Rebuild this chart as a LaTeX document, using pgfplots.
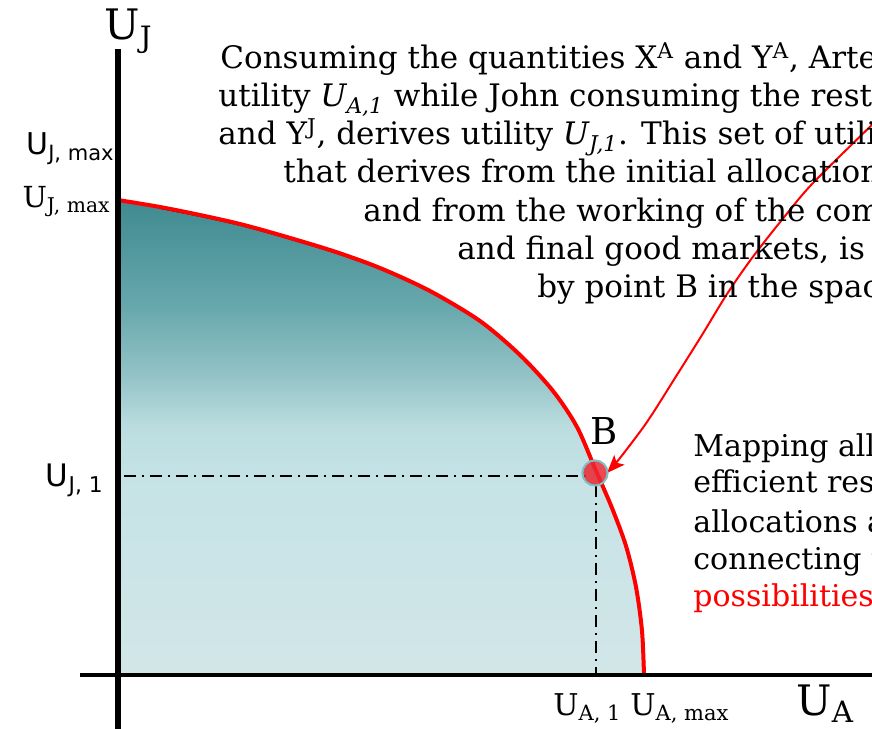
\documentclass[border=0pt]{standalone}
\usepackage{fontspec}
\setmainfont{DejaVu Serif}
\setsansfont{DejaVu Sans}
\usepackage{pgfplots}
\pgfplotsset{compat=1.18}
\usetikzlibrary{arrows.meta}
\definecolor{ctop}{HTML}{3F8A90}
\definecolor{c64}{HTML}{66A7AC}
\definecolor{c57}{HTML}{90C1C5}
\definecolor{c51}{HTML}{BCDDE0}
\definecolor{c45}{HTML}{C6E3E6}
\definecolor{cbot}{HTML}{D2E6E8}
\definecolor{cborder}{HTML}{7DBFC6}
\definecolor{cred}{HTML}{EB2832}
\pgfdeclareverticalshading{ppf}{100bp}{color(0bp)=(cbot); color(25bp)=(cbot); color(45bp)=(c45); color(51bp)=(c51); color(57bp)=(c57); color(64bp)=(c64); color(75bp)=(ctop); color(100bp)=(ctop)}
\begin{document}
\begin{tikzpicture}
\path[use as bounding box] (0,0) rectangle (436pt,364pt);
\clip (0,0) rectangle (436pt,364pt);
\begin{axis}[at={(0,0)}, anchor=south west, hide axis, scale only axis,
  width=436pt, height=364pt, xmin=-118, xmax=754, ymin=-53, ymax=675, clip=false]
% frontier fill
\addplot[draw=none, shading=ppf, smooth] coordinates {
(0,475) (42,468) (82,460) (122,451) (162,440) (215,424) (262,407) (312,384)
(362,354) (402,320) (435,284) (459,248) (478,204) (494,167) (508,129) (518,88) (524,44) (526,0)
} \closedcycle;
\addplot[black, line width=0.5pt, smooth, xshift=0.5pt, yshift=-0.8pt] coordinates {
(42,468) (82,460) (122,451) (162,440) (215,424) (262,407) (312,384)
(362,354) (402,320) (435,284) (459,248) (478,204) (494,167) (508,129) (518,88) (524,44) (526,0)
};
% point B
\addplot[only marks, mark=*, mark size=6.3pt, mark options={draw=cborder, line width=1pt, fill=cred, fill opacity=0.85}] coordinates {(477,202)};
% frontier line
\addplot[red, line width=2pt, smooth] coordinates {
(0,475) (42,468) (82,460) (122,451) (162,440) (215,424) (262,407) (312,384)
(362,354) (402,320) (435,284) (459,248) (478,204) (494,167) (508,129) (518,88) (524,44) (526,0)
};
% dash-dot guides
\addplot[black, line width=1.3pt, dash pattern=on 6pt off 3pt on 1pt off 3pt] coordinates {(6,199) (471,199)};
\addplot[black, line width=1.3pt, dash pattern=on 6pt off 3pt on 1pt off 3pt] coordinates {(478,190) (478,0)};
% arrow
\addplot[red, line width=1pt, smooth, -{Stealth[length=9pt, width=7pt, inset=2pt]}] coordinates {
(760,556) (695,492) (663,454) (634,417) (609,381) (584,340) (557,297) (529,253) (502,217) (489,202)
};
% axes
\draw[line width=2.6pt] (axis cs:0,626) -- (axis cs:0,-60);
\draw[line width=2pt] (axis cs:-38,0) -- (axis cs:760,0);
% axis labels
\node[anchor=base west, inner sep=0pt, font=\fontsize{21}{24}\selectfont] at (axis cs:-14,635) {U\textsubscript{J}};
\node[anchor=base west, inner sep=0pt, font=\fontsize{21}{24}\selectfont] at (axis cs:678,-40) {U\textsubscript{A}};
\node[anchor=base east, inner sep=0pt, font=\sffamily\fontsize{15}{18}\selectfont] at (axis cs:-3,520) {U\textsubscript{J, max}};
\node[anchor=base east, inner sep=0pt, font=\fontsize{14.5}{16}\selectfont] at (axis cs:-7,467) {U\textsubscript{J, max}};
\node[anchor=base east, inner sep=0pt, font=\sffamily\fontsize{15.5}{18}\selectfont] at (axis cs:-14,188) {U\textsubscript{J, 1}};
\node[anchor=base west, inner sep=0pt, font=\fontsize{15}{16}\selectfont] at (axis cs:435,-40) {U\textsubscript{A, 1}};
\node[anchor=base west, inner sep=0pt, font=\fontsize{15}{16}\selectfont] at (axis cs:512,-40) {U\textsubscript{A, max}};
\node[anchor=base, inner sep=0pt, font=\fontsize{18.5}{20}\selectfont] at (axis cs:486,230) {B};
% text block
\begin{scope}[every node/.style={anchor=base west, inner sep=0pt, font=\fontsize{15.5}{19}\selectfont}]
\node at (axis cs:102,606) {Consuming the quantities X\textsuperscript{A} and Y\textsuperscript{A}, Artemis derives};
\node at (axis cs:100,568) {utility \textit{U\textsubscript{A,1}} while John consuming the rest X\textsuperscript{J}};
\node at (axis cs:100,530) {and Y\textsuperscript{J}, derives utility \textit{U\textsubscript{J,1}}. This set of utilities};
\node at (axis cs:165,492) {that derives from the initial allocation of resources};
\node at (axis cs:245,453) {and from the working of the competitive factor};
\node at (axis cs:339,415) {and final good markets, is represented};
\node at (axis cs:419,377) {by point B in the space};
\end{scope}
\begin{scope}[every node/.style={anchor=base west, inner sep=0pt, font=\fontsize{15}{19}\selectfont}]
\node at (axis cs:575,218) {Mapping all Pareto};
\node at (axis cs:575,182) {efficient resource};
\node at (axis cs:575,142) {allocations and};
\node at (axis cs:575,105) {connecting them, the utility};
\node[text=red] at (axis cs:575,68) {possibilities frontier};
\end{scope}
\end{axis}
\end{tikzpicture}
\end{document}
